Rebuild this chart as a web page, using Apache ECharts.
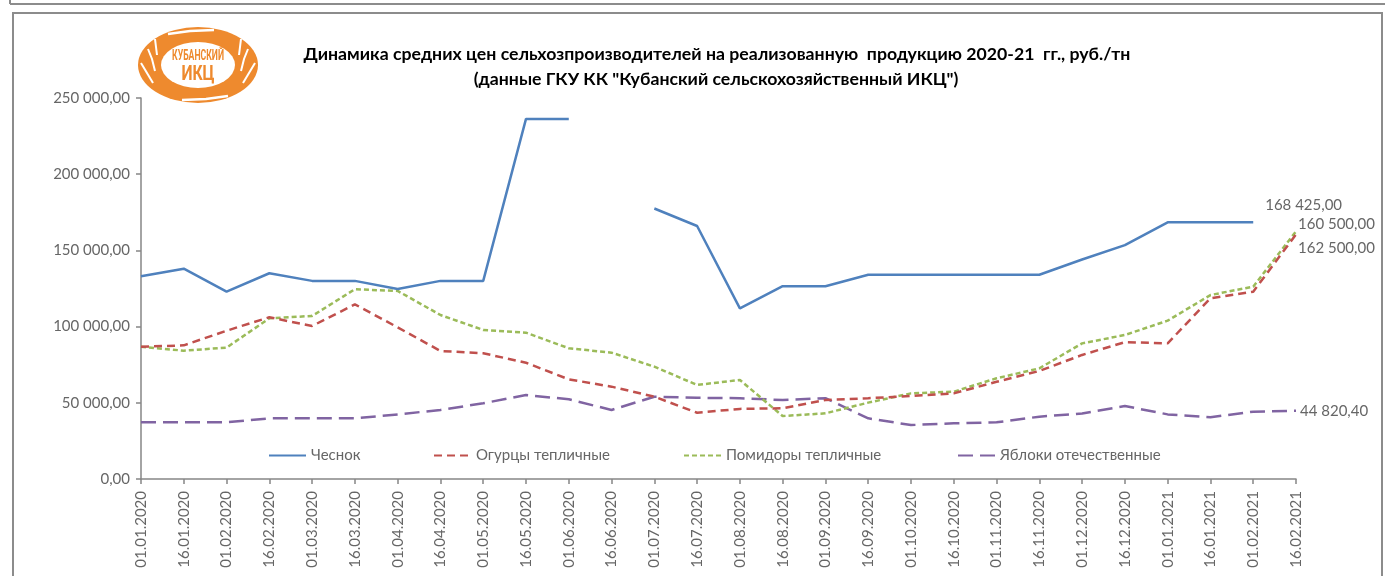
<!DOCTYPE html>
<html>
<head>
<meta charset="utf-8">
<script src="https://cdn.jsdelivr.net/npm/echarts@6/dist/echarts.min.js"></script>
<style>
html,body{margin:0;padding:0;background:#fff;}
#c{width:1385px;height:576px;}
</style>
</head>
<body>
<div id="c"></div>
<script>
const categories = ['01.01.2020','16.01.2020','01.02.2020','16.02.2020','01.03.2020','16.03.2020','01.04.2020','16.04.2020','01.05.2020','16.05.2020','01.06.2020','16.06.2020','01.07.2020','16.07.2020','01.08.2020','16.08.2020','01.09.2020','16.09.2020','01.10.2020','16.10.2020','01.11.2020','16.11.2020','01.12.2020','16.12.2020','01.01.2021','16.01.2021','01.02.2021','16.02.2021'];
const seriesNames = ['Чеснок','Огурцы тепличные','Помидоры тепличные','Яблоки отечественные'];
const chesnok = [133000,138000,123000,135000,130000,130000,124700,130000,130000,236300,236300,null,177500,166000,112000,126500,126500,134000,134000,134000,134000,134000,144000,153500,168425,168425,168425,null];
const ogurcy = [86800,87700,97300,106100,100400,114600,99500,84000,82500,76300,65400,60600,54000,43500,46000,46400,51800,53000,54500,56200,63800,70900,81400,89800,89000,118600,122900,160500];
const pomidory = [86800,84200,86200,105400,107000,124500,123400,107600,97800,96000,85800,82900,73700,61700,65000,41300,43100,50100,56200,57300,66100,72600,89000,94500,103900,120700,126200,162500];
const yabloki = [37200,37200,37200,39800,39800,39800,42400,45300,49700,55100,52300,45300,54000,53300,53000,51800,53000,39800,35400,36500,37200,40900,43000,47900,42400,40500,44200,44820.40];
const yTicks = [0,50000,100000,150000,200000,250000];
const titleLines = ['Динамика средних цен сельхозпроизводителей на реализованную  продукцию 2020-21  гг., руб./тн','(данные ГКУ КК "Кубанский сельскохозяйственный ИКЦ")'];

function fmt(v){
  const p = Number(v).toFixed(2).split('.');
  return p[0].replace(/\B(?=(\d{3})+(?!\d))/g,' ') + ',' + p[1];
}
const FONT = 'Lato, "Open Sans", sans-serif';
const GRAY = '#666666';
const AXIS = '#868686';
const ORANGE = '#ee8a2e';

function withLabel(arr, idx, offset){
  return arr.map((v,i)=> i===idx ? {value:v, label:{show:true, position:'right', distance:5, offset:offset, formatter:(p)=>fmt(p.value), color:GRAY, fontSize:15, fontFamily:FONT}} : v);
}

const colors = ['#4f81bd','#c0504d','#9bbb59','#8064a2'];
const dashes = ['solid',[8,5],[5,3],[15,7]];
const dataSets = [
  withLabel(chesnok, 26, [7,-17]),
  withLabel(ogurcy, 27, [-3,-10]),
  withLabel(pomidory, 27, [-3,17]),
  withLabel(yabloki, 27, [-1,0])
];
const legendLefts = [263, 428, 678, 952];

const chart = echarts.init(document.getElementById('c'), null, {renderer:'canvas'});
const option = {
  animation:false,
  backgroundColor:'#ffffff',
  grid:{left:141, right:89, top:98, bottom:97, containLabel:false},
  legend: seriesNames.map((n,i)=>({
    data:[n], left:legendLefts[i], top:443, itemWidth:37, itemHeight:14, itemGap:5,
    itemStyle:{opacity:0},
    textStyle:{color:GRAY, fontSize:15, fontFamily:FONT}, selectedMode:false
  })),
  xAxis:{
    type:'category', data:categories, boundaryGap:false,
    axisLine:{show:true, lineStyle:{color:AXIS, width:1.5}},
    axisTick:{show:true, interval:0, length:5, lineStyle:{color:AXIS, width:1.5}},
    axisLabel:{interval:0, rotate:90, margin:12, color:GRAY, fontSize:15, fontFamily:FONT},
    splitLine:{show:false}
  },
  yAxis:{
    type:'value', min:yTicks[0], max:yTicks[yTicks.length-1], interval:yTicks[1]-yTicks[0],
    axisLine:{show:true, lineStyle:{color:AXIS, width:1.5}},
    axisTick:{show:true, length:5, lineStyle:{color:AXIS, width:1.5}},
    axisLabel:{margin:11, color:GRAY, fontSize:15, fontFamily:FONT, formatter:(v)=>fmt(v)},
    splitLine:{show:false}
  },
  series: seriesNames.map((n,i)=>({
    name:n, type:'line', data:dataSets[i], symbol:'circle', symbolSize:0, showSymbol:true, showAllSymbol:true, connectNulls:false,
    lineStyle:{color:colors[i], width:2.5, type:dashes[i]},
    itemStyle:{color:colors[i]},
    z: 10-i
  })),
  graphic:[
    {type:'line', shape:{x1:10,y1:4,x2:1385,y2:4}, style:{stroke:'#8c8c8c', lineWidth:2}},
    {type:'line', shape:{x1:10,y1:0,x2:10,y2:4}, style:{stroke:'#8c8c8c', lineWidth:2}},
    {type:'rect', shape:{x:13,y:13,width:1369,height:620}, style:{fill:'none', stroke:'#8c8c8c', lineWidth:2}},
    {type:'text', x:717, y:54, style:{text:titleLines[0], textAlign:'center', textVerticalAlign:'middle', font:'bold 17.7px '+FONT, fill:'#000'}},
    {type:'text', x:716, y:79, style:{text:titleLines[1], textAlign:'center', textVerticalAlign:'middle', font:'bold 17.7px '+FONT, fill:'#000'}},
    {type:'group', x:198, y:65, children:[
      {type:'circle', shape:{cx:0, cy:0, r:60}, scaleY:0.633, style:{fill:ORANGE}},
      {type:'circle', shape:{cx:0, cy:0, r:37}, scaleY:0.62, style:{fill:'#fff'}},
      {type:'polyline', shape:{points:[[-50,-16],[-46,-6],[-43,6]]}, style:{stroke:'#fff', lineWidth:2, fill:'none'}},
      {type:'polyline', shape:{points:[[-57,-2],[-51,8],[-45,18]]}, style:{stroke:'#fff', lineWidth:2, fill:'none'}},
      {type:'polyline', shape:{points:[[-43,-26],[-42,-18],[-41,-10]]}, style:{stroke:'#fff', lineWidth:2, fill:'none'}},
      {type:'polyline', shape:{points:[[50,-16],[46,-6],[43,6]]}, style:{stroke:'#fff', lineWidth:2, fill:'none'}},
      {type:'polyline', shape:{points:[[57,-2],[51,8],[45,18]]}, style:{stroke:'#fff', lineWidth:2, fill:'none'}},
      {type:'polyline', shape:{points:[[43,-26],[42,-18],[41,-10]]}, style:{stroke:'#fff', lineWidth:2, fill:'none'}},
      {type:'polyline', shape:{points:[[-30,-31],[-8,-34],[16,-35]]}, style:{stroke:'#fff', lineWidth:2.5, fill:'none'}},
      {type:'polyline', shape:{points:[[30,31],[8,34],[-16,35]]}, style:{stroke:'#fff', lineWidth:2.5, fill:'none'}},
      {type:'text', x:0, y:-9, scaleX:0.62, style:{text:'КУБАНСКИЙ', textAlign:'center', textVerticalAlign:'middle', font:'bold 14px Roboto, sans-serif', fill:ORANGE}},
      {type:'text', x:0, y:10, scaleX:0.75, style:{text:'ИКЦ', textAlign:'center', textVerticalAlign:'middle', font:'bold 21px Roboto, sans-serif', fill:ORANGE}}
    ]}
  ]
};
chart.setOption(option);
</script>
</body>
</html>
